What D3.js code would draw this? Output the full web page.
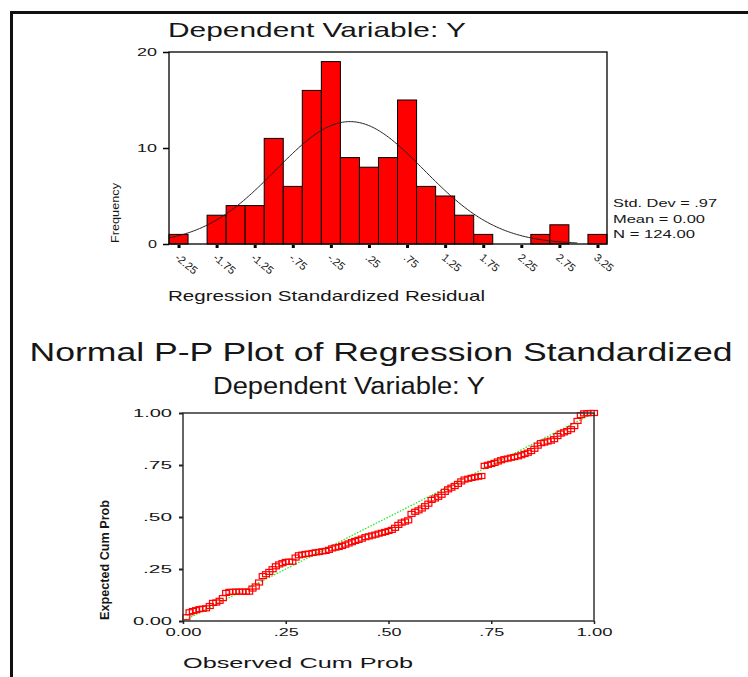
<!DOCTYPE html>
<html>
<head>
<meta charset="utf-8">
<script src="https://cdn.jsdelivr.net/npm/d3@7.9.0/dist/d3.min.js"></script>
<style>
  body { margin: 0; background: #fff; }
  svg { display: block; font-family: "Liberation Sans", Arial, sans-serif; }
  text { fill: #161616; }
</style>
</head>
<body>
<svg id="chart" width="748" height="677"></svg>
<script>
// histogram: bin centres and frequencies (bin width .25)
const binCenters = [-2.25, -2.0, -1.75, -1.5, -1.25, -1.0, -0.75, -0.5, -0.25, 0, 0.25, 0.5,
  0.75, 1.0, 1.25, 1.5, 1.75, 2.0, 2.25, 2.5, 2.75, 3.0, 3.25];
const frequencies = [1, 0, 3, 4, 4, 11, 6, 16, 19, 9, 8, 9, 15, 6, 5, 3, 1, 0, 0, 1, 2, 0, 1];
const binWidth = 0.25;
const residTicks = [-2.25, -1.75, -1.25, -0.75, -0.25, 0.25, 0.75, 1.25, 1.75, 2.25, 2.75, 3.25];
const residLabels = ['-2.25', '-1.75', '-1.25', '-.75', '-.25', '.25', '.75', '1.25', '1.75', '2.25', '2.75', '3.25'];
const freqTicks = [0, 10, 20];
const statLines = ['Std. Dev = .97', 'Mean = 0.00', 'N = 124.00'];
const resMean = 0, resSd = 0.97, resN = 124;

// P-P plot: observed vs expected cumulative probability
const ppObserved = [.008, .016, .024, .032, .040, .048, .056, .065, .073, .081, .089, .097,
  .105, .113, .121, .129, .137, .145, .153, .161, .169, .177, .185, .194, .202, .210, .218,
  .226, .234, .242, .250, .258, .266, .274, .282, .290, .298, .306, .315, .323, .331, .339,
  .347, .355, .363, .371, .379, .387, .395, .403, .411, .419, .427, .435, .444, .452, .460,
  .468, .476, .484, .492, .500, .508, .516, .524, .532, .540, .548, .556, .565, .573, .581,
  .589, .597, .605, .613, .621, .629, .637, .645, .653, .661, .669, .677, .685, .694, .702,
  .710, .718, .726, .734, .742, .750, .758, .766, .774, .782, .790, .798, .806, .815, .823,
  .831, .839, .847, .855, .863, .871, .879, .887, .895, .903, .911, .919, .927, .935, .944,
  .952, .960, .968, .976, .984, .992, 1.0];
const ppExpected = [.018, .042, .048, .052, .057, .059, .061, .072, .087, .089, .097, .110,
  .135, .140, .140, .141, .141, .141, .141, .141, .156, .166, .185, .216, .225, .236, .249,
  .263, .272, .278, .284, .285, .285, .305, .316, .319, .322, .324, .327, .330, .332, .335,
  .337, .342, .349, .353, .356, .361, .367, .373, .379, .385, .390, .396, .403, .407, .411,
  .415, .420, .424, .428, .433, .438, .448, .462, .473, .478, .484, .515, .525, .532, .541,
  .552, .564, .582, .589, .597, .607, .621, .633, .641, .649, .659, .671, .680, .684, .688,
  .691, .694, .697, .746, .751, .755, .760, .767, .773, .778, .781, .785, .788, .792, .797,
  .803, .809, .817, .828, .843, .855, .858, .863, .867, .874, .889, .901, .907, .913, .922,
  .937, .962, .990, .998, .999, 1.0, 1.0];
const probTicks = [0, 0.25, 0.5, 0.75, 1];
const probLabels = ['0.00', '.25', '.50', '.75', '1.00'];

const svg = d3.select('#chart');

// stretch text to a measured width, the way the original output is rendered
function fit(sel, w) {
  sel.attr('textLength', w).attr('lengthAdjust', 'spacingAndGlyphs');
}

// outer frame (left + top only)
svg.append('path')
  .attr('d', 'M11.5,677 V12.5 H748')
  .attr('fill', 'none')
  .attr('stroke', '#111')
  .attr('stroke-width', 3);

// ---------- histogram ----------
const hx = d3.scaleLinear().domain([-2.375, 3.375]).range([169, 607]);
const hy = d3.scaleLinear().domain([0, 20]).range([244, 52]);

svg.append('text')
  .attr('x', 317).attr('y', 37)
  .attr('text-anchor', 'middle')
  .style('font-size', '21px')
  .text('Dependent Variable: Y')
  .call(fit, 298);

const bins = binCenters.map((c, i) => ({ c, f: frequencies[i] }));
svg.append('g')
  .selectAll('rect')
  .data(bins.filter(d => d.f > 0))
  .join('rect')
  .attr('x', d => hx(d.c - binWidth / 2))
  .attr('width', d => hx(d.c + binWidth / 2) - hx(d.c - binWidth / 2))
  .attr('y', d => hy(d.f))
  .attr('height', d => hy(0) - hy(d.f))
  .attr('fill', '#ff0000')
  .attr('stroke', '#000')
  .attr('stroke-width', 1);

// fitted normal curve
const pdf = x => Math.exp(-0.5 * ((x - resMean) / resSd) ** 2) / (resSd * Math.sqrt(2 * Math.PI));
const curveX = d3.range(-2.375, 3.0, 0.02);
svg.append('path')
  .datum(curveX)
  .attr('fill', 'none')
  .attr('stroke', '#222')
  .attr('stroke-width', 1)
  .attr('d', d3.line().x(d => hx(d)).y(d => hy(resN * binWidth * pdf(d))).curve(d3.curveBasis));

svg.append('rect')
  .attr('x', 169).attr('y', 52)
  .attr('width', 438).attr('height', 192)
  .attr('fill', 'none')
  .attr('stroke', '#000')
  .attr('stroke-width', 1.3);

const hyAxis = svg.append('g')
  .attr('transform', 'translate(169,0)')
  .call(d3.axisLeft(hy).tickValues(freqTicks).tickSize(6).tickPadding(6));
hyAxis.select('.domain').remove();
hyAxis.selectAll('line').attr('stroke', '#000').attr('stroke-width', 1.5);
hyAxis.selectAll('text')
  .attr('font-family', null).attr('font-size', null)
  .style('font-size', '11px')
  .each(function (d) { d3.select(this).call(fit, d === 0 ? 9 : 20); });

const hxAxis = svg.append('g')
  .attr('transform', 'translate(0,244)')
  .call(d3.axisBottom(hx).tickValues(residTicks).tickSize(4)
    .tickFormat((d, i) => residLabels[i]));
hxAxis.select('.domain').remove();
hxAxis.selectAll('line').attr('stroke', '#000').attr('stroke-width', 3).attr('y1', 1);
hxAxis.selectAll('text')
  .attr('font-family', null).attr('font-size', null)
  .style('font-size', '11px')
  .attr('text-anchor', 'start')
  .attr('x', 0).attr('y', 0).attr('dy', '0.8em')
  .attr('transform', 'translate(1,8) rotate(40)');

svg.append('text')
  .attr('x', 168).attr('y', 301)
  .style('font-size', '15px')
  .text('Regression Standardized Residual')
  .call(fit, 317);

svg.append('text')
  .attr('transform', 'translate(119,213) rotate(-90)')
  .attr('text-anchor', 'middle')
  .style('font-size', '11px')
  .text('Frequency')
  .call(fit, 60);

const statWidths = [104, 92, 82];
svg.append('g')
  .selectAll('text')
  .data(statLines)
  .join('text')
  .attr('x', 613)
  .attr('y', (d, i) => 207 + i * 15.5)
  .style('font-size', '11px')
  .text(d => d)
  .each(function (d, i) { d3.select(this).call(fit, statWidths[i]); });

// ---------- P-P plot ----------
const px = d3.scaleLinear().domain([0, 1]).range([183, 594]);
const py = d3.scaleLinear().domain([0, 1]).range([621, 413]);

svg.append('text')
  .attr('x', 381).attr('y', 361)
  .attr('text-anchor', 'middle')
  .style('font-size', '25px')
  .text('Normal P-P Plot of Regression Standardized')
  .call(fit, 703);

svg.append('text')
  .attr('x', 349).attr('y', 394)
  .attr('text-anchor', 'middle')
  .style('font-size', '23px')
  .text('Dependent Variable: Y')
  .call(fit, 272);

svg.append('line')
  .attr('x1', px(0)).attr('y1', py(0))
  .attr('x2', px(1)).attr('y2', py(1))
  .attr('stroke', '#22ee22')
  .attr('stroke-width', 1.3)
  .attr('stroke-dasharray', '1.5,1.5');

svg.append('g')
  .selectAll('rect')
  .data(ppObserved.map((o, i) => [o, ppExpected[i]]))
  .join('rect')
  .attr('x', d => px(d[0]) - 3.5)
  .attr('y', d => py(d[1]) - 2.5)
  .attr('width', 7)
  .attr('height', 5)
  .attr('fill', 'none')
  .attr('stroke', '#ff0000')
  .attr('stroke-width', 1.2);

svg.append('rect')
  .attr('x', 183).attr('y', 413)
  .attr('width', 411).attr('height', 208)
  .attr('fill', 'none')
  .attr('stroke', '#333')
  .attr('stroke-width', 1.5);

const pyAxis = svg.append('g')
  .attr('transform', 'translate(183,0)')
  .call(d3.axisLeft(py).tickValues(probTicks).tickSize(4).tickPadding(7)
    .tickFormat((d, i) => probLabels[i]));
pyAxis.select('.domain').remove();
pyAxis.selectAll('line').attr('stroke', '#222').attr('stroke-width', 2);
pyAxis.selectAll('text')
  .attr('font-family', null).attr('font-size', null)
  .style('font-size', '10px')
  .each(function (d, i) { d3.select(this).call(fit, probLabels[i].length === 4 ? 39 : 29); });

const pxAxis = svg.append('g')
  .attr('transform', 'translate(0,621)')
  .call(d3.axisBottom(px).tickValues(probTicks).tickSize(3).tickPadding(5)
    .tickFormat((d, i) => probLabels[i]));
pxAxis.select('.domain').remove();
pxAxis.selectAll('line').attr('stroke', '#222').attr('stroke-width', 1.5);
pxAxis.selectAll('text')
  .attr('font-family', null).attr('font-size', null)
  .style('font-size', '10px')
  .each(function (d, i) { d3.select(this).call(fit, probLabels[i].length === 4 ? 36 : 25); });

svg.append('text')
  .attr('x', 183).attr('y', 668)
  .style('font-size', '14px')
  .text('Observed Cum Prob')
  .call(fit, 230);

svg.append('text')
  .attr('transform', 'translate(109,560) rotate(-90)')
  .attr('text-anchor', 'middle')
  .style('font-size', '12px')
  .style('font-weight', 'bold')
  .text('Expected Cum Prob')
  .call(fit, 120);
</script>
</body>
</html>
